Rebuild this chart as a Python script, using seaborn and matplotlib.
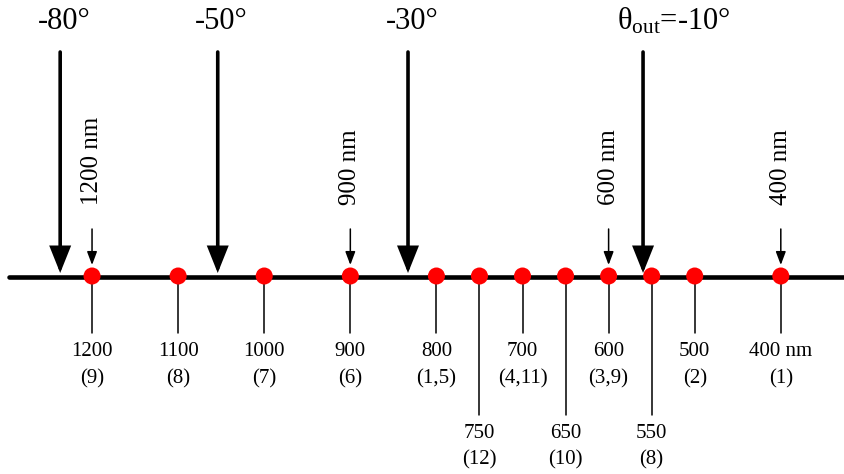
import matplotlib
matplotlib.use("Agg")
import matplotlib.pyplot as plt
import seaborn as sns

# ---- data ----
wavelengths = [1200, 1100, 1000, 900, 800, 750, 700, 650, 600, 550, 500, 400]
wl_labels = ['1200', '1100', '1000', '900', '800', '750', '700', '650', '600', '550', '500', '400 nm']
orders = ['(9)', '(8)', '(7)', '(6)', '(1,5)', '(12)', '(4,11)', '(10)', '(3,9)', '(8)', '(2)', '(1)']
low_row = [False, False, False, False, False, True, False, True, False, True, False, False]

angle_labels = ['-80°', '-50°', '-30°', r'θ$_{\mathrm{out}}$=-10°']
angle_positions_nm = [1237, 1054, 833, 560]

marked_wl = [1200, 900, 600, 400]
marked_labels = ['1200 nm', '900 nm', '600 nm', '400 nm']

# ---- style ----
sns.set_theme(style='white')
plt.rcParams['font.family'] = ['Liberation Serif', 'DejaVu Serif']
plt.rcParams['text.color'] = 'black'
plt.rcParams['mathtext.fontset'] = 'custom'
plt.rcParams['mathtext.rm'] = 'Liberation Serif'
plt.rcParams['mathtext.it'] = 'Liberation Serif:italic'

W, H = 844, 474
fig = plt.figure(figsize=(W / 100, H / 100), dpi=100)
ax = fig.add_axes([0, 0, 1, 1])
XL = (1306.9, 326.6)
nm_per_px = (XL[0] - XL[1]) / W

AXIS_Y = 277
DOT_Y = 276

# main axis line
ax.axhline(AXIS_Y, xmin=9 / W, xmax=1, lw=3.3, color='black', zorder=2)

# red dots
sns.scatterplot(x=wavelengths, y=[DOT_Y] * len(wavelengths), s=150, color='#ff0000',
                edgecolor='none', zorder=4, ax=ax, legend=False)

# tick lines and labels below
for wl, lab, order, low in zip(wavelengths, wl_labels, orders, low_row):
    bottom = 415 if low else 333
    ax.plot([wl, wl], [DOT_Y, bottom], color='black', lw=1.1, zorder=3)
    y1 = 433 if low else 352
    ax.text(wl, y1, lab, ha='center', va='center', fontsize=15, color='black')
    ax.text(wl, y1 + 27, order, ha='center', va='center', fontsize=15, color='black')

# big angle arrows
for i, (lab, pos) in enumerate(zip(angle_labels, angle_positions_nm)):
    ax.annotate('', xy=(pos, 273), xytext=(pos, 52),
                arrowprops=dict(arrowstyle='-|>,head_length=0.75,head_width=0.3',
                                mutation_scale=20, lw=2.6, color='black',
                                shrinkA=0, shrinkB=0, joinstyle='miter'),
                zorder=5)
    if i < 3:
        ax.text(pos - 4 * nm_per_px, 29, lab, ha='center', va='baseline', fontsize=22,
                color='black')
    else:
        ax.text(pos + 26 * nm_per_px, 29, lab, ha='left', va='baseline', fontsize=22,
                color='black')

# small wavelength arrows with rotated labels
for wl, lab in zip(marked_wl, marked_labels):
    ax.annotate('', xy=(wl, 265), xytext=(wl, 229),
                arrowprops=dict(arrowstyle='-|>,head_length=0.8,head_width=0.3',
                                mutation_scale=10, lw=1.1, color='black',
                                shrinkA=0, shrinkB=0),
                zorder=5)
    ax.text(wl, 205, lab, rotation=90, ha='center', va='bottom', fontsize=18, color='black')

ax.set_xlim(*XL)
ax.set_ylim(H, 0)
ax.axis('off')
fig.savefig('out.png', dpi=100)
